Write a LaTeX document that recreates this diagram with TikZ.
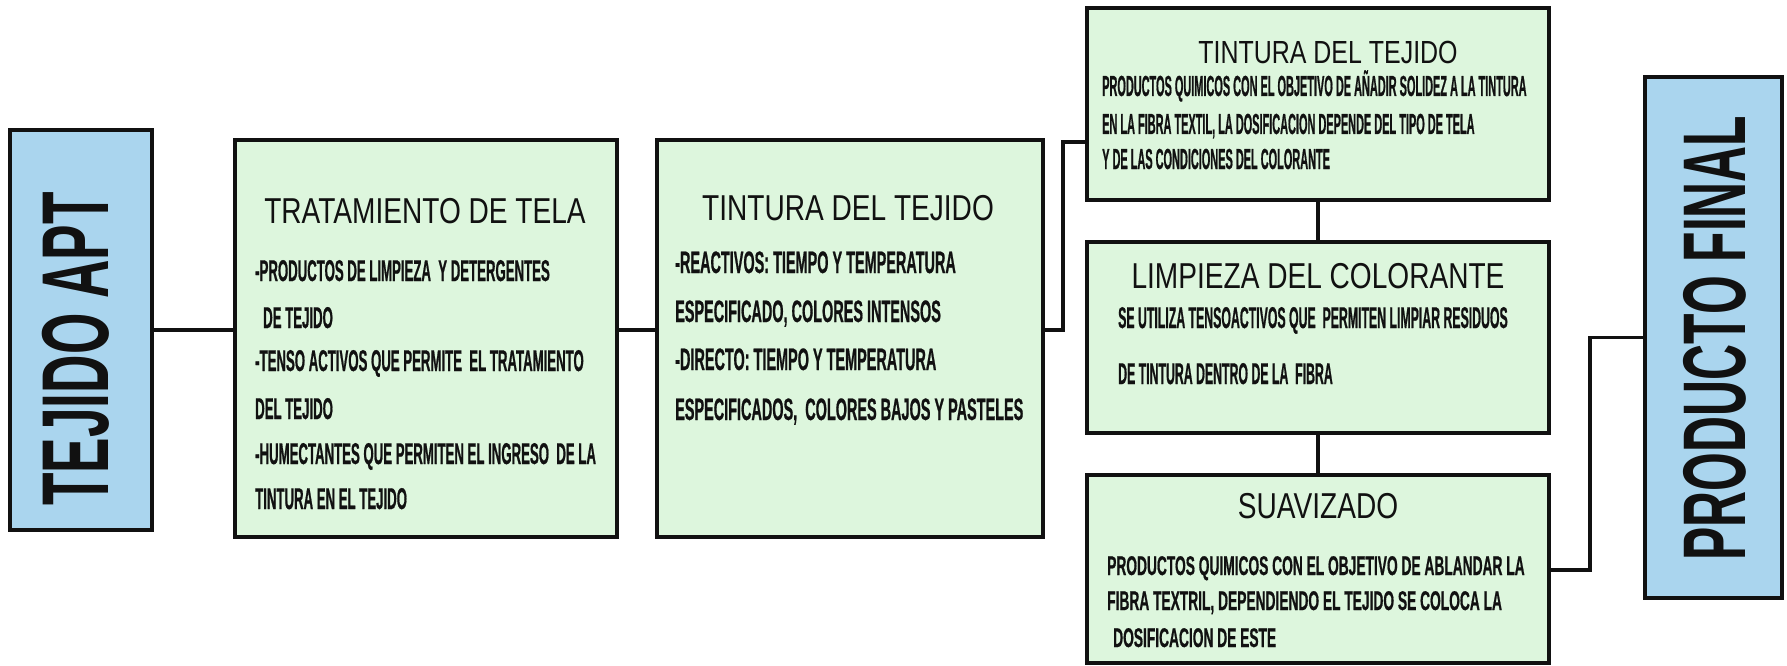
\documentclass[tikz,border=0pt]{standalone}
\usepackage{fontspec}
\setmainfont{Liberation Sans}
\newfontfamily\bodyA{Liberation Sans}[FakeStretch=0.44,FakeBold=0.6]
\newfontfamily\bodyB{Liberation Sans}[FakeStretch=0.466,FakeBold=0.6]
\newfontfamily\bodyC{Liberation Sans}[FakeStretch=0.377,FakeBold=0.6]
\newfontfamily\bodyD{Liberation Sans}[FakeStretch=0.41,FakeBold=0.6]
\newfontfamily\bodyE{Liberation Sans}[FakeStretch=0.51,FakeBold=0.6]
\newfontfamily\titlef{Liberation Sans}[FakeStretch=0.78]
\newfontfamily\bigf{Liberation Sans}[FakeStretch=0.56]
\definecolor{boxgreen}{RGB}{221,246,221}
\definecolor{boxblue}{RGB}{170,213,238}
\definecolor{ink}{RGB}{17,17,17}
\begin{document}
\begin{tikzpicture}[x=1pt,y=-1pt]
\tikzset{
  gbox/.style={draw=ink, line width=4pt, fill=boxgreen, inner sep=0pt, outer sep=0pt},
  bbox/.style={draw=ink, line width=4pt, fill=boxblue, inner sep=0pt, outer sep=0pt},
  conn/.style={line width=3.5pt, draw=ink},
  ttl/.style={inner sep=0pt, anchor=base, text=ink, font=\titlef\fontsize{36}{36}\selectfont},
  bdy/.style={inner sep=0pt, anchor=base west, text=ink},
  big/.style={inner sep=0pt, rotate=90, text=ink}
}
\useasboundingbox (0,0) rectangle (1787,666);
% boxes
\node[bbox, minimum width=142, minimum height=400] (tej) at (81,330) {};
\node[gbox, minimum width=382, minimum height=397] (trat) at (426,338.5) {};
\node[gbox, minimum width=386, minimum height=397] (mid) at (850,338.5) {};
\node[gbox, minimum width=462, minimum height=192] (tr) at (1318,104) {};
\node[gbox, minimum width=462, minimum height=191] (limp) at (1318,337.5) {};
\node[gbox, minimum width=462, minimum height=188] (suav) at (1318,569) {};
\node[bbox, minimum width=137, minimum height=521] (prod) at (1713.5,337.5) {};
% connectors
\coordinate (j1) at (1063,142);
\coordinate (j2) at (1590,570);
\draw[conn] (tej.east) -- (tej.east -| trat.west);
\draw[conn] (trat.east |- tej.east) -- (mid.west |- tej.east);
\draw[conn] (mid.east |- tej.east) -| (j1) -- (j1 -| tr.west);
\draw[conn] (tr.south) -- (limp.north);
\draw[conn] (limp.south) -- (suav.north);
\draw[conn] (suav.east |- j2) -- (j2) |- (prod.west);
% big labels
\node[big, font=\bigf\bfseries\fontsize{95}{95}\selectfont] (tejt) at (76,349) {TEJIDO APT};
\node[big, font=\bigf\bfseries\fontsize{89}{89}\selectfont] (prodt) at (1715,338) {PRODUCTO FINAL};
% tratamiento
\node[ttl] (tratt) at (425,223) {TRATAMIENTO DE TELA};
\begin{scope}[every node/.append style={bdy, font=\bodyA\bfseries\fontsize{30}{30}\selectfont}]
\node (tr1) at (255,281) {-PRODUCTOS DE LIMPIEZA\ \ Y DETERGENTES};
\node (tr2) at (263,328) {DE TEJIDO};
\node (tr3) at (255,371) {-TENSO ACTIVOS QUE PERMITE\ \ EL TRATAMIENTO};
\node (tr4) at (255,419) {DEL TEJIDO};
\node (tr5) at (255,464) {-HUMECTANTES QUE PERMITEN EL INGRESO\ \ DE LA};
\node (tr6) at (255,509) {TINTURA EN EL TEJIDO};
\end{scope}
% tintura middle
\node[ttl] (midt) at (848,220) {TINTURA DEL TEJIDO};
\begin{scope}[every node/.append style={bdy, font=\bodyB\bfseries\fontsize{31}{31}\selectfont}]
\node (m1) at (675,273) {-REACTIVOS: TIEMPO Y TEMPERATURA};
\node (m2) at (675,322) {ESPECIFICADO, COLORES INTENSOS};
\node (m3) at (675,370) {-DIRECTO: TIEMPO Y TEMPERATURA};
\node (m4) at (675,420) {ESPECIFICADOS,\ \ COLORES BAJOS Y PASTELES};
\end{scope}
% tintura top right
\node[ttl, font=\titlef\fontsize{32}{32}\selectfont] (trt) at (1328,64) {TINTURA DEL TEJIDO};
\begin{scope}[every node/.append style={bdy, font=\bodyC\bfseries\fontsize{29}{29}\selectfont}]
\node (r1) at (1102,96) {PRODUCTOS QUIMICOS CON EL OBJETIVO DE AÑADIR SOLIDEZ A LA TINTURA};
\node (r2) at (1102,134) {EN LA FIBRA TEXTIL, LA DOSIFICACION DEPENDE DEL TIPO DE TELA};
\node (r3) at (1102,169) {Y DE LAS CONDICIONES DEL COLORANTE};
\end{scope}
% limpieza
\node[ttl] (limpt) at (1318,288) {LIMPIEZA DEL COLORANTE};
\begin{scope}[every node/.append style={bdy, font=\bodyD\bfseries\fontsize{30}{30}\selectfont}]
\node (l1) at (1118,328) {SE UTILIZA TENSOACTIVOS QUE\ \ PERMITEN LIMPIAR RESIDUOS};
\node (l2) at (1118,384) {DE TINTURA DENTRO DE LA\ \ FIBRA};
\end{scope}
% suavizado
\node[ttl] (suavt) at (1318,518) {SUAVIZADO};
\begin{scope}[every node/.append style={bdy, font=\bodyE\bfseries\fontsize{27}{27}\selectfont}]
\node (s1) at (1107,575) {PRODUCTOS QUIMICOS CON EL OBJETIVO DE ABLANDAR LA};
\node (s2) at (1107,610) {FIBRA TEXTRIL, DEPENDIENDO EL TEJIDO SE COLOCA LA};
\node (s3) at (1113,647) {DOSIFICACION DE ESTE};
\end{scope}
\end{tikzpicture}
\end{document}
